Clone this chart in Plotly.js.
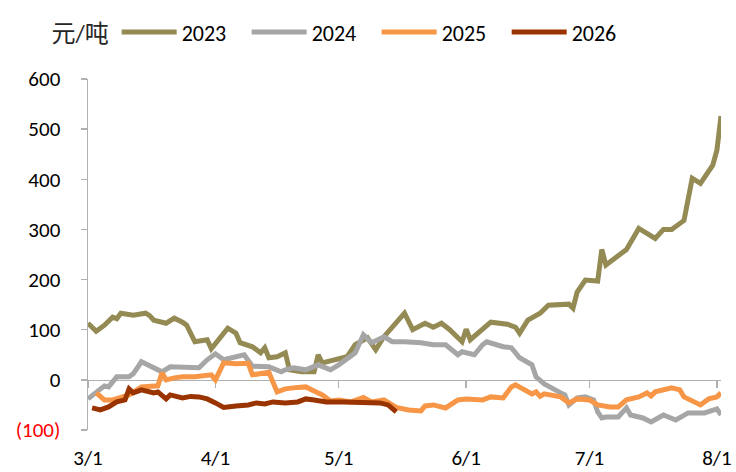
<!DOCTYPE html>
<html>
<head>
<meta charset="utf-8">
<script src="https://cdn.plot.ly/plotly-3.0.1.min.js"></script>
<style>
  html, body { margin: 0; padding: 0; background: #fff; }
  #chart { width: 736px; height: 472px; }
</style>
</head>
<body>
<div id="chart"></div>
<script>
// ---------- data ----------
const seriesNames = ["2023", "2024", "2025", "2026"];
const seriesColors = ["#948A54", "#A6A6A6", "#F79646", "#993300"];

const dates2023 = ["2023-03-01","2023-03-03","2023-03-05","2023-03-07","2023-03-08","2023-03-09","2023-03-12","2023-03-15","2023-03-16","2023-03-17","2023-03-20","2023-03-22","2023-03-24","2023-03-25","2023-03-27","2023-03-29","2023-03-30","2023-03-31","2023-04-04","2023-04-06","2023-04-07","2023-04-10","2023-04-12","2023-04-13","2023-04-14","2023-04-16","2023-04-18","2023-04-19","2023-04-22","2023-04-25","2023-04-26","2023-04-27","2023-04-30","2023-05-03","2023-05-05","2023-05-08","2023-05-10","2023-05-12","2023-05-17","2023-05-19","2023-05-22","2023-05-24","2023-05-26","2023-05-28","2023-05-31","2023-06-01","2023-06-02","2023-06-06","2023-06-07","2023-06-11","2023-06-13","2023-06-14","2023-06-16","2023-06-19","2023-06-21","2023-06-26","2023-06-27","2023-06-28","2023-06-30","2023-07-03","2023-07-04","2023-07-05","2023-07-08","2023-07-10","2023-07-13","2023-07-17","2023-07-19","2023-07-21","2023-07-24","2023-07-26","2023-07-28","2023-07-31","2023-08-01","2023-08-02"];
const values2023 = [113,97,109,125,122,133,129,133,128,119,113,123,115,109,76,78,80,62,103,93,74,66,54,64,44,46,54,20,16,16,50,34,40,46,70,84,60,86,133,100,113,105,113,100,76,101,80,109,115,111,105,93,119,133,149,151,143,175,199,197,260,229,249,260,302,282,300,300,318,402,392,428,458,526];

const dates2024 = ["2023-03-01","2023-03-03","2023-03-05","2023-03-06","2023-03-08","2023-03-11","2023-03-12","2023-03-14","2023-03-17","2023-03-19","2023-03-21","2023-03-24","2023-03-28","2023-03-30","2023-04-01","2023-04-03","2023-04-08","2023-04-10","2023-04-14","2023-04-17","2023-04-18","2023-04-20","2023-04-23","2023-04-26","2023-04-29","2023-05-01","2023-05-05","2023-05-07","2023-05-09","2023-05-12","2023-05-14","2023-05-17","2023-05-21","2023-05-24","2023-05-27","2023-05-30","2023-05-31","2023-06-03","2023-06-05","2023-06-06","2023-06-10","2023-06-12","2023-06-13","2023-06-14","2023-06-17","2023-06-18","2023-06-20","2023-06-22","2023-06-24","2023-06-25","2023-06-26","2023-06-28","2023-06-30","2023-07-02","2023-07-03","2023-07-04","2023-07-05","2023-07-08","2023-07-10","2023-07-11","2023-07-14","2023-07-16","2023-07-19","2023-07-22","2023-07-25","2023-07-29","2023-08-01","2023-08-02"];
const values2024 = [-38,-26,-12,-14,6,6,12,36,24,16,26,26,24,40,52,40,50,27,26,16,20,24,20,30,20,30,54,90,74,86,76,76,74,70,70,50,56,50,70,76,66,64,54,44,30,6,-8,-18,-26,-30,-50,-36,-34,-40,-64,-76,-74,-74,-56,-70,-76,-84,-70,-80,-66,-66,-58,-70];

const dates2025 = ["2023-03-03","2023-03-05","2023-03-07","2023-03-11","2023-03-14","2023-03-16","2023-03-18","2023-03-19","2023-03-20","2023-03-22","2023-03-24","2023-03-27","2023-03-29","2023-03-31","2023-04-01","2023-04-03","2023-04-06","2023-04-09","2023-04-10","2023-04-14","2023-04-16","2023-04-18","2023-04-21","2023-04-23","2023-04-25","2023-04-27","2023-04-29","2023-05-01","2023-05-04","2023-05-07","2023-05-09","2023-05-12","2023-05-15","2023-05-18","2023-05-21","2023-05-22","2023-05-24","2023-05-27","2023-05-30","2023-06-01","2023-06-05","2023-06-07","2023-06-10","2023-06-12","2023-06-13","2023-06-15","2023-06-17","2023-06-18","2023-06-19","2023-06-20","2023-06-22","2023-06-24","2023-06-26","2023-06-28","2023-07-01","2023-07-03","2023-07-06","2023-07-08","2023-07-10","2023-07-13","2023-07-15","2023-07-16","2023-07-17","2023-07-21","2023-07-23","2023-07-24","2023-07-28","2023-07-30","2023-08-01","2023-08-02"];
const values2025 = [-26,-40,-40,-30,-14,-14,-12,14,0,4,6,6,8,10,0,34,32,33,10,15,-24,-18,-15,-14,-22,-30,-42,-40,-44,-35,-44,-40,-55,-60,-62,-52,-50,-56,-40,-38,-40,-34,-36,-14,-10,-20,-28,-24,-33,-28,-32,-34,-46,-38,-40,-50,-54,-54,-40,-34,-26,-32,-24,-16,-20,-34,-50,-38,-34,-26];

const dates2026 = ["2023-03-02","2023-03-04","2023-03-06","2023-03-08","2023-03-10","2023-03-11","2023-03-12","2023-03-14","2023-03-17","2023-03-18","2023-03-20","2023-03-21","2023-03-24","2023-03-26","2023-03-28","2023-03-30","2023-04-01","2023-04-03","2023-04-06","2023-04-09","2023-04-11","2023-04-13","2023-04-15","2023-04-18","2023-04-21","2023-04-23","2023-04-25","2023-04-28","2023-05-02","2023-05-06","2023-05-09","2023-05-11","2023-05-13","2023-05-14","2023-05-15"];
const values2026 = [-56,-60,-54,-44,-40,-18,-26,-20,-26,-24,-38,-30,-36,-33,-34,-38,-46,-55,-52,-50,-46,-48,-44,-46,-44,-38,-40,-44,-44,-44,-44,-46,-50,-56,-64];

const xTickVals = ["2023-03-01","2023-04-01","2023-05-01","2023-06-01","2023-07-01","2023-08-01"];
const xTickText = ["3/1","4/1","5/1","6/1","7/1","8/1"];
const yTickVals = [-100,0,100,200,300,400,500,600];
const yTickText = ['<span style="color:#FF0000">(100)</span>',"0","100","200","300","400","500","600"];
const unitLabel = "元/吨";

// ---------- chart ----------
const allDates = [dates2023, dates2024, dates2025, dates2026];
const allValues = [values2023, values2024, values2025, values2026];
const FONT = "Carlito, Lato, 'Noto Sans CJK SC', sans-serif";
const AXIS_COLOR = "#B0B0B0";
const xRange = ["2023-03-01", "2023-08-02"];

const traces = seriesNames.map((name, i) => ({
  type: "scatter",
  mode: "lines",
  name: name,
  x: allDates[i],
  y: allValues[i],
  line: { color: seriesColors[i], width: 5, shape: "linear" },
  xaxis: "x",
  yaxis: "y",
  hoverinfo: "x+y+name"
}));

// invisible trace that anchors the overlay axis drawing the zero line with month ticks
traces.push({
  type: "scatter", mode: "lines", x: xRange, y: [0, 0],
  xaxis: "x2", yaxis: "y", showlegend: false, hoverinfo: "skip",
  line: { color: "rgba(0,0,0,0)", width: 0 }
});

const layout = {
  width: 736,
  height: 472,
  margin: { l: 88, r: 15, t: 78, b: 42 },
  paper_bgcolor: "#ffffff",
  plot_bgcolor: "#ffffff",
  font: { family: FONT, size: 21, color: "#000000" },
  showlegend: true,
  legend: {
    orientation: "h",
    x: -0.061, xanchor: "left",
    y: 1.13, yanchor: "middle",
    title: { text: unitLabel, side: "left", font: { family: FONT, size: 24, color: "#262626" } },
    font: { family: FONT, size: 22, color: "#000000" },
    itemwidth: 55,
    entrywidth: 60,
    bgcolor: "rgba(0,0,0,0)",
    borderwidth: 0
  },
  xaxis: {
    type: "date",
    range: xRange,
    showline: false,
    showgrid: false,
    zeroline: false,
    ticks: "",
    tickmode: "array",
    tickvals: xTickVals,
    ticktext: xTickText,
    ticklabelstandoff: 13,
    tickfont: { family: FONT, size: 21, color: "#000000" },
    fixedrange: true
  },
  xaxis2: {
    type: "date",
    range: xRange,
    overlaying: "x",
    anchor: "free",
    position: 100 / 700,
    side: "bottom",
    showline: true,
    linecolor: AXIS_COLOR,
    linewidth: 1.5,
    showgrid: false,
    zeroline: false,
    ticks: "outside",
    ticklen: 7,
    tickwidth: 1.5,
    tickcolor: AXIS_COLOR,
    tickmode: "array",
    tickvals: xTickVals,
    showticklabels: false,
    layer: "below traces",
    fixedrange: true
  },
  yaxis: {
    range: [-100, 600],
    showline: true,
    linecolor: AXIS_COLOR,
    linewidth: 1.5,
    showgrid: false,
    zeroline: false,
    ticks: "outside",
    ticklen: 6,
    tickwidth: 1.5,
    tickcolor: AXIS_COLOR,
    tickmode: "array",
    tickvals: yTickVals,
    ticktext: yTickText,
    ticklabelstandoff: 16,
    tickfont: { family: FONT, size: 21, color: "#000000" },
    layer: "below traces",
    fixedrange: true
  }
};

Plotly.newPlot("chart", traces, layout, { staticPlot: true, displayModeBar: false });
</script>
</body>
</html>
